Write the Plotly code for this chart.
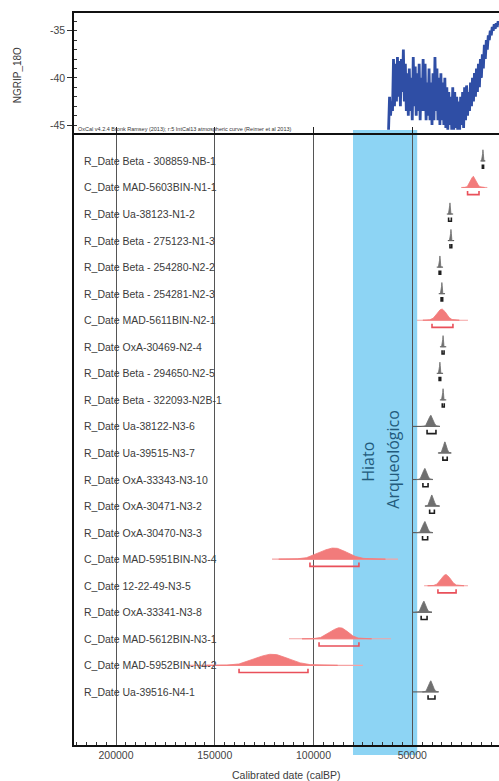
import numpy as np
import plotly.graph_objects as go

# ---------------- NGRIP d18O record (upper panel) ----------------
ngrip_age = [
    62000, 61500, 61000, 60500, 60000, 59500, 59000, 58500, 58000, 57500,
    57000, 56500, 56000, 55500, 55000, 54500, 54000, 53500, 53000, 52500,
    52000, 51500, 51000, 50500, 50000, 49500, 49000, 48500, 48000, 47500,
    47000, 46500, 46000, 45500, 45000, 44500, 44000, 43500, 43000, 42500,
    42000, 41500, 41000, 40500, 40000, 39500, 39000, 38500, 38000, 37500,
    37000, 36500, 36000, 35500, 35000, 34500, 34000, 33500, 33000, 32500,
    32000, 31500, 31000, 30500, 30000, 29500, 29000, 28500, 28000, 27500,
    27000, 26500, 26000, 25500, 25000, 24500, 24000, 23500, 23000, 22500,
    22000, 21500, 21000, 20500, 20000, 19500, 19000, 18500, 18000, 17500,
    17000, 16500, 16000, 15500, 15000, 14500, 14000, 13500, 13000, 12500,
    12000, 11500, 11000, 10500, 10000, 9500, 9000, 8500, 8000, 7500,
    7000, 6500, 6000,
]
ngrip_d18o = [
    -45.5, -42.0, -44.0, -42.5, -43.5, -38.0, -43.0, -38.5, -42.5, -37.8,
    -42.0, -38.2, -43.0, -38.0, -41.5, -37.0, -42.5, -38.5, -43.5, -39.5,
    -44.0, -39.0, -43.5, -40.0, -44.5, -37.8, -43.0, -38.8, -44.0, -39.5,
    -43.5, -38.5, -44.5, -40.0, -43.5, -38.0, -43.5, -38.5, -44.5, -40.5,
    -44.0, -39.0, -44.5, -40.5, -45.0, -39.5, -44.5, -37.8, -43.5, -39.0,
    -44.5, -40.0, -45.0, -39.5, -44.5, -40.5, -45.0, -40.0, -45.3, -41.0,
    -45.5, -41.5, -45.0, -42.0, -45.5, -41.0, -45.5, -41.5, -45.3, -42.0,
    -45.5, -42.5, -45.5, -42.0, -45.0, -41.5, -45.3, -41.0, -44.5, -40.8,
    -44.0, -41.5, -43.5, -40.5, -43.0, -40.0, -42.5, -39.5, -42.0, -39.0,
    -41.5, -38.5, -41.0, -38.0, -40.0, -37.5, -39.0, -36.5, -38.0, -36.0,
    -37.0, -35.5, -36.0, -35.0, -35.5, -34.6, -35.0, -34.3, -34.8, -34.2,
    -34.6, -34.0, -34.4,
]

# ---------------- Dated samples (lower panel) ----------------
kinds = ["R_Date", "C_Date", "R_Date", "R_Date", "R_Date", "R_Date", "C_Date",
         "R_Date", "R_Date", "R_Date", "R_Date", "R_Date", "R_Date", "R_Date",
         "R_Date", "C_Date", "C_Date", "R_Date", "C_Date", "C_Date", "R_Date"]
samples = ["Beta - 308859-NB-1", "MAD-5603BIN-N1-1", "Ua-38123-N1-2",
           "Beta - 275123-N1-3", "Beta - 254280-N2-2", "Beta - 254281-N2-3",
           "MAD-5611BIN-N2-1", "OxA-30469-N2-4", "Beta - 294650-N2-5",
           "Beta - 322093-N2B-1", "Ua-38122-N3-6", "Ua-39515-N3-7",
           "OxA-33343-N3-10", "OxA-30471-N3-2", "OxA-30470-N3-3",
           "MAD-5951BIN-N3-4", "12-22-49-N3-5", "OxA-33341-N3-8",
           "MAD-5612BIN-N3-1", "MAD-5952BIN-N4-2", "Ua-39516-N4-1"]
# mode of each calibrated distribution (cal BP)
peak_bp = [14200, 19000, 30900, 30400, 36000, 35000, 35000, 34400, 36000, 34400,
           40500, 33400, 43500, 40000, 43500, 89600, 33000, 44000, 86600, 121000, 40500]
# spread on the older / younger side of the mode (years)
spread_old = [200, 1400, 200, 200, 200, 200, 2400, 200, 200, 200,
              1200, 800, 1100, 900, 1100, 7000, 2300, 1100, 4800, 8300, 1100]
spread_young = [200, 1400, 200, 200, 200, 200, 2200, 200, 200, 200,
                1100, 800, 1000, 900, 1000, 6500, 2300, 1000, 4000, 8300, 1000]
# extent of the base line of each distribution
base_old = [15500, 25300, 32500, 32000, 37600, 36600, 47600, 36000, 37600, 36000,
            50000, 37000, 50000, 43500, 50000, 121000, 44000, 50000, 112400, 164000, 50000]
base_young = [13000, 12000, 29300, 28800, 34400, 33400, 21800, 32800, 34400, 32800,
              36000, 30400, 39500, 36000, 39500, 57200, 21800, 40000, 60800, 75000, 37000]
# 95.4% probability ranges
range_old = [14500, 22000, 31600, 30900, 36400, 35400, 40000, 34900, 36400, 34800,
             42500, 34500, 44600, 41200, 44800, 101800, 37000, 45500, 97200, 137700, 42000]
range_young = [13900, 16200, 30200, 30000, 35600, 34600, 29400, 33900, 35600, 33800,
               38000, 32300, 42000, 38800, 42200, 77000, 27800, 42500, 77000, 102800, 38500]

hiatus_old, hiatus_young = 80000, 47500

X_RANGE = [221270, 6080]
PEAK_H = 0.42

STYLE = {
    "R_Date": dict(fill="#6f6f6f", base="#5a5a5a", bracket="#1e1e1e"),
    "C_Date": dict(fill="#f27b7b", base="#f5a3a3", bracket="#e9505a"),
}

fig = go.Figure()

fig.add_trace(go.Scatter(
    x=ngrip_age, y=ngrip_d18o, mode="lines",
    line=dict(color="#2f4ea5", width=2.8),
    xaxis="x2", yaxis="y2", hoverinfo="skip", showlegend=False,
))

for i, kind in enumerate(kinds):
    row = i + 1
    st = STYLE[kind]
    mu, so, sy = peak_bp[i], spread_old[i], spread_young[i]
    xs = np.linspace(mu - 4 * sy, mu + 4 * so, 160)
    sd = np.where(xs >= mu, so, sy)
    dens = np.exp(-0.5 * ((xs - mu) / sd) ** 2)
    ys = row - PEAK_H * dens

    fig.add_trace(go.Scatter(
        x=[base_old[i], base_young[i]], y=[row, row], mode="lines",
        line=dict(color=st["base"], width=1.1),
        hoverinfo="skip", showlegend=False,
    ))
    fig.add_trace(go.Scatter(
        x=list(xs) + [xs[-1], xs[0]], y=list(ys) + [row, row],
        mode="lines", fill="toself", fillcolor=st["fill"],
        line=dict(color=st["fill"], width=0.8),
        hoverinfo="skip", showlegend=False,
    ))
    fig.add_trace(go.Scatter(
        x=[range_old[i], range_old[i], range_young[i], range_young[i]],
        y=[row + 0.13, row + 0.27, row + 0.27, row + 0.13],
        mode="lines", line=dict(color=st["bracket"], width=1.6),
        hoverinfo="skip", showlegend=False,
    ))

annotations = []
label_font = dict(family="Liberation Sans, Arial, sans-serif", size=10.5, color="#3c3c3c")
for i, kind in enumerate(kinds):
    annotations.append(dict(
        x=0.0188, xref="paper", y=i + 1, yref="y",
        text=f"{kind} {samples[i]}", showarrow=False,
        xanchor="left", yanchor="middle", font=label_font,
    ))

annotations += [
    dict(x=72400, xref="x", y=0.387, yref="paper", text="Hiato",
         textangle=-90, showarrow=False, xanchor="center", yanchor="middle",
         font=dict(family="Open Sans, Noto Sans, sans-serif", size=16, color="#235b7c")),
    dict(x=59800, xref="x", y=0.391, yref="paper", text="Arqueológico",
         textangle=-90, showarrow=False, xanchor="center", yanchor="middle",
         font=dict(family="Open Sans, Noto Sans, sans-serif", size=16, color="#235b7c")),
    dict(x=-0.134, xref="paper", y=0.915, yref="paper", text="NGRIP_18O",
         textangle=-90, showarrow=False, xanchor="center", yanchor="middle",
         font=dict(family="Liberation Sans, Arial, sans-serif", size=10, color="#3c3c3c")),
    dict(x=0.5, xref="paper", y=-0.041, yref="paper", text="Calibrated date (calBP)",
         showarrow=False, xanchor="center", yanchor="middle",
         font=dict(family="Liberation Sans, Arial, sans-serif", size=10.5, color="#3c3c3c")),
    dict(x=0.005, xref="paper", y=0.8415, yref="paper",
         text="OxCal v4.2.4 Bronk Ramsey (2013); r:5 IntCal13 atmospheric curve (Reimer et al 2013)",
         showarrow=False, xanchor="left", yanchor="middle",
         font=dict(family="Liberation Sans, Arial, sans-serif", size=5.5, color="#333333")),
]

shapes = [
    dict(type="rect", xref="x", yref="paper", x0=hiatus_old, x1=hiatus_young,
         y0=-0.0137, y1=0.840, fillcolor="#8dd4f4", line=dict(width=0), layer="below"),
]

tick_font = dict(family="Liberation Sans, Arial, sans-serif", size=10.5, color="#444444")

fig.update_layout(
    width=499, height=781,
    margin=dict(l=74, r=0, t=13, b=36),
    paper_bgcolor="white", plot_bgcolor="rgba(0,0,0,0)",
    showlegend=False,
    annotations=annotations,
    shapes=shapes,
    xaxis=dict(
        range=X_RANGE, domain=[0, 1], anchor="y",
        tickmode="linear", tick0=0, dtick=50000, tickformat="d",
        showgrid=True, gridcolor="#555555", gridwidth=1,
        ticks="", tickfont=tick_font,
        minor=dict(dtick=5000, ticks="inside", ticklen=3, tickcolor="#333333", showgrid=False),
        showline=True, linecolor="#111111", linewidth=1.6, zeroline=False,
    ),
    yaxis=dict(
        domain=[0, 0.836], range=[23.0, -0.05], anchor="x",
        showticklabels=False, showgrid=False, zeroline=False, ticks="",
        showline=True, linecolor="#111111", linewidth=2,
    ),
    xaxis2=dict(
        matches="x", anchor="y2", domain=[0, 1],
        showticklabels=False, showgrid=False, zeroline=False,
        tickmode="linear", tick0=0, dtick=50000,
        ticks="inside", ticklen=6, tickcolor="#222222",
        showline=True, mirror=True, linecolor="#111111", linewidth=1.8,
    ),
    yaxis2=dict(
        domain=[0.836, 1], range=[-45.85, -33.12], anchor="x2",
        tickvals=[-35, -40, -45], ticktext=["-35", "-40", "-45"],
        ticks="outside", ticklen=5, tickcolor="#333333", tickfont=tick_font,
        minor=dict(dtick=1, ticks="inside", ticklen=3, tickcolor="#333333", showgrid=False),
        showgrid=False, zeroline=False,
        showline=True, linecolor="#111111", linewidth=1.6,
    ),
)

fig.write_html("out.html")
